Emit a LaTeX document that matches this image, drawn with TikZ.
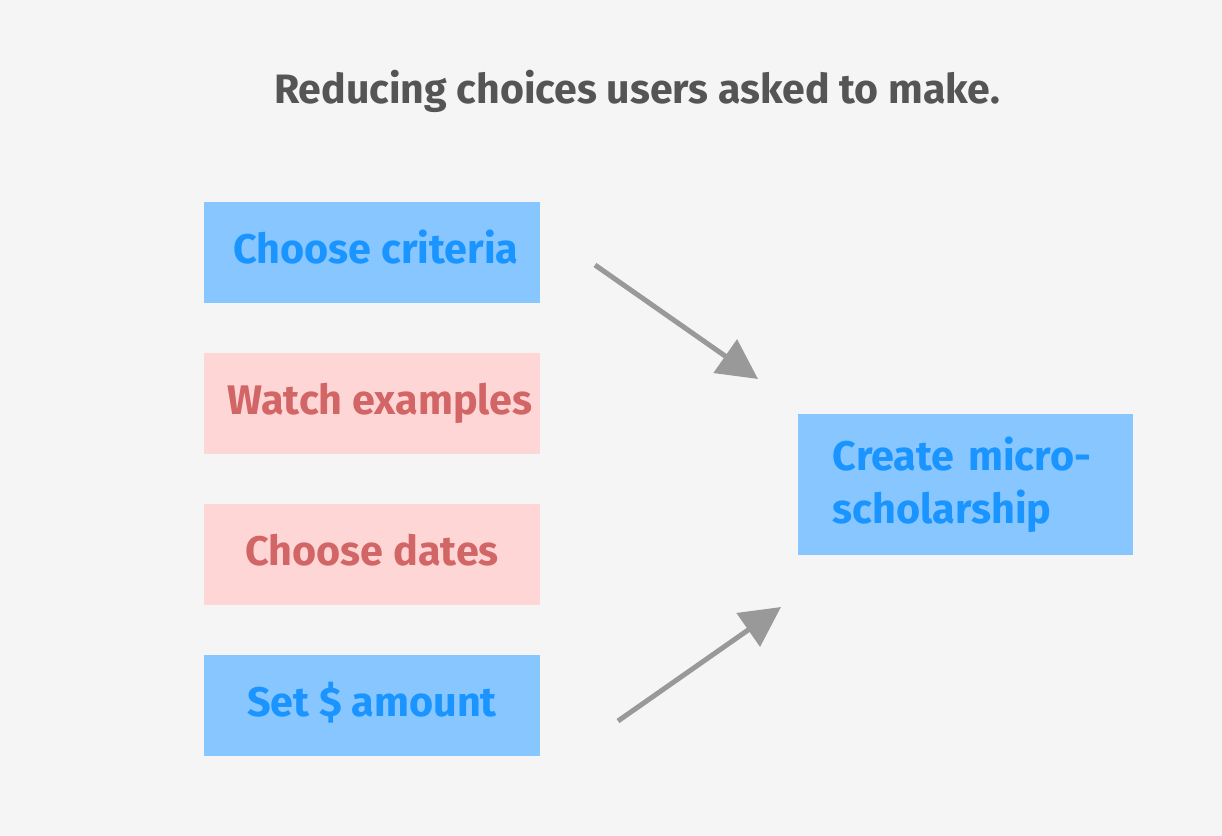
\documentclass[tikz,border=0pt]{standalone}
\usepackage{fontspec}
\setmainfont{Fira Sans}
\usetikzlibrary{positioning}
\usetikzlibrary{arrows.meta}

\definecolor{bgcol}{HTML}{F5F5F5}
\definecolor{bluefill}{HTML}{87C6FF}
\definecolor{bluetext}{HTML}{1A94FF}
\definecolor{pinkfill}{HTML}{FFD6D6}
\definecolor{pinktext}{HTML}{D26666}
\definecolor{arrowcol}{HTML}{999999}
\definecolor{titlecol}{HTML}{555555}

\tikzset{
  choicebox/.style={minimum width=252pt,minimum height=75.75pt,inner sep=0pt,
    text height=22pt,text depth=6pt,
    font=\fontsize{31}{37}\selectfont\bfseries},
  keepbox/.style={choicebox,fill=bluefill,text=bluetext},
  dropbox/.style={choicebox,fill=pinkfill,text=pinktext},
  goalbox/.style={minimum width=251.25pt,minimum height=105.75pt,inner sep=0pt,
    fill=bluefill,text=bluetext,align=left,text width=199pt,
    font=\fontsize{31}{40}\selectfont\bfseries},
  reduce/.style={color=arrowcol,line width=3.75pt,
    -{Triangle[length=30pt,width=30pt]}}
}

\begin{document}
\begin{tikzpicture}[x=0.75pt,y=-0.75pt,node distance=37.2pt]
\fill[bgcol] (0,0) rectangle (1222,836);

\node[font=\fontsize{30.8}{36}\selectfont\bfseries,text=titlecol] (title) at (637,91) {Reducing choices users asked to make.};

\node[keepbox] (crit) at (372,252.5) {\hspace{6pt}Choose criteria};
\node[dropbox,below=of crit] (examples) {\hspace{12pt}Watch examples};
\node[dropbox,below=of examples] (dates) {Choose dates};
\node[keepbox,below=of dates] (amount) {Set \$ amount};

\node[goalbox] (create) at (965.5,484.5) {Create micro-\\scholarship};

\coordinate (critout) at (595,265);
\coordinate (topin) at (758,379);
\coordinate (amountout) at (618,721);
\coordinate (bottomin) at (781,607);

\path (critout) edge[reduce] (topin)
  (amountout) edge[reduce] (bottomin);
\end{tikzpicture}
\end{document}
